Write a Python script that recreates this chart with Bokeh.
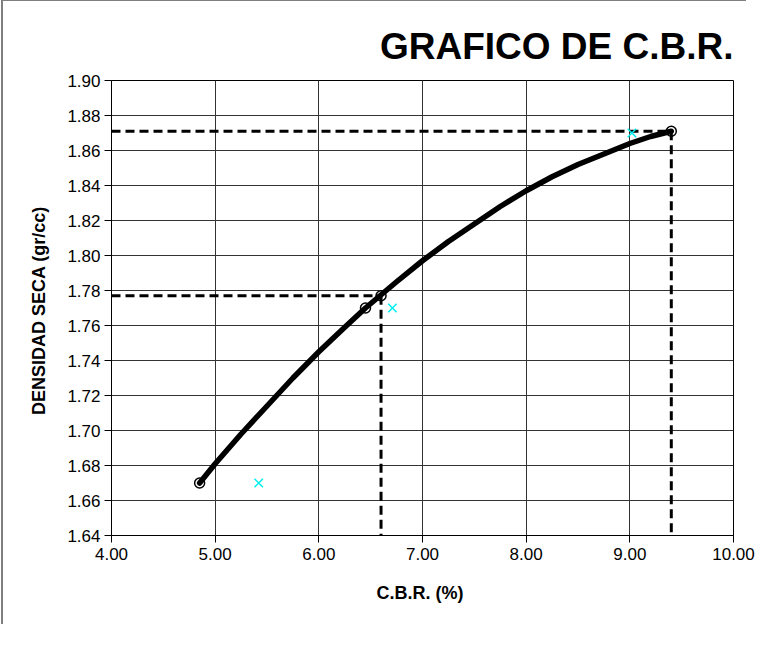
from bokeh.plotting import figure
from bokeh.models import FixedTicker, NumeralTickFormatter, Range1d, Div
from bokeh.layouts import column
from bokeh.embed import file_html
from bokeh.resources import INLINE

# ---- data ----
x_ticks = [4.0, 5.0, 6.0, 7.0, 8.0, 9.0, 10.0]
y_ticks = [1.64, 1.66, 1.68, 1.70, 1.72, 1.74, 1.76, 1.78, 1.80, 1.82, 1.84, 1.86, 1.88, 1.90]

# compaction points (C.B.R. vs dry density)
cbr_pts = [4.85, 6.45, 9.40]
dens_pts = [1.670, 1.770, 1.871]

# design point (95% of max density)
cbr_design = 6.60
dens_design = 1.777

# secondary points (cyan crosses)
cbr_alt = [5.42, 6.71, 9.02]
dens_alt = [1.670, 1.770, 1.870]

# fitted curve
curve_cbr = [4.85, 5.0, 5.25, 5.5, 5.75, 6.0, 6.25, 6.45, 6.75, 7.0, 7.25, 7.5,
             7.75, 8.0, 8.25, 8.5, 8.75, 9.0, 9.2, 9.4]
curve_dens = [1.670, 1.681, 1.698, 1.714, 1.730, 1.745, 1.759, 1.770, 1.785, 1.797, 1.808, 1.818,
              1.828, 1.837, 1.845, 1.852, 1.858, 1.864, 1.868, 1.871]

x_min, x_max = 4.0, 10.0
y_min, y_max = 1.64, 1.90

p = figure(width=758, height=629, output_backend="svg", toolbar_location=None,
           x_range=Range1d(x_min, x_max), y_range=Range1d(y_min, y_max),
           min_border_left=111, min_border_right=25, min_border_top=80, min_border_bottom=94)

p.background_fill_color = "white"
p.border_fill_color = "white"
p.outline_line_color = "black"
p.outline_line_width = 1

# title
p.title.text = "GRAFICO DE C.B.R."
p.title.align = "right"
p.title.text_font = "Liberation Sans"
p.title.text_font_style = "bold"
p.title.text_font_size = "37px"
p.title.text_color = "black"
p.title.standoff = 28

for ax in (p.xaxis, p.yaxis):
    ax.axis_line_color = "black"
    ax.major_tick_line_color = "black"
    ax.major_tick_out = 7
    ax.major_tick_in = 0
    ax.minor_tick_line_color = None
    ax.major_label_text_font = "Liberation Sans"
    ax.major_label_text_font_size = "17px"
    ax.major_label_text_color = "black"
    ax.axis_label_text_font = "Liberation Sans"
    ax.axis_label_text_font_style = "bold"
    ax.axis_label_text_font_size = "18px"
    ax.axis_label_text_color = "black"
    ax.formatter = NumeralTickFormatter(format="0.00")

p.xaxis.ticker = FixedTicker(ticks=x_ticks)
p.yaxis.ticker = FixedTicker(ticks=y_ticks)
p.xaxis.axis_label = "C.B.R.  (%)"
p.yaxis.axis_label = "DENSIDAD SECA  (gr/cc)"
p.xaxis.major_label_standoff = 5
p.yaxis.major_label_standoff = 4
p.xaxis.axis_label_standoff = 20
p.yaxis.axis_label_standoff = 15

p.xgrid.ticker = FixedTicker(ticks=x_ticks)
p.ygrid.ticker = FixedTicker(ticks=y_ticks)
p.grid.grid_line_color = "#333333"
p.grid.grid_line_width = 1

# dashed guide lines
dash = "9 5"
p.line([x_min, cbr_design], [dens_design, dens_design], line_color="black", line_width=3, line_dash=dash)
p.line([cbr_design, cbr_design], [dens_design, y_min], line_color="black", line_width=3, line_dash=dash)
p.line([x_min, cbr_pts[-1]], [dens_pts[-1], dens_pts[-1]], line_color="black", line_width=3, line_dash=dash)
p.line([cbr_pts[-1], cbr_pts[-1]], [dens_pts[-1], y_min], line_color="black", line_width=3, line_dash=dash)

# fitted curve
p.line(curve_cbr, curve_dens, line_color="black", line_width=5.5, line_join="round", line_cap="round")

# points
p.scatter(cbr_pts + [cbr_design], dens_pts + [dens_design], marker="circle", size=10,
          fill_color=None, line_color="black", line_width=1.5)
p.scatter(cbr_alt, dens_alt, marker="x", size=12, line_color="#00eeee", line_width=1.5)

# outer chart border (top and left edges are visible in the reference)
border_html = ('<div style="position:absolute;left:-4px;top:-6px;width:745px;height:625px;'
               'border-left:2px solid #7f7f7f;border-top:2px solid #7f7f7f;'
               'pointer-events:none;"></div>')
frame_div = Div(text=border_html, width=1, height=0,
                styles={"position": "absolute", "overflow": "visible", "z-index": "5"})

layout = column(p, frame_div, spacing=0)
open("out.html", "w").write(file_html(layout, INLINE))
